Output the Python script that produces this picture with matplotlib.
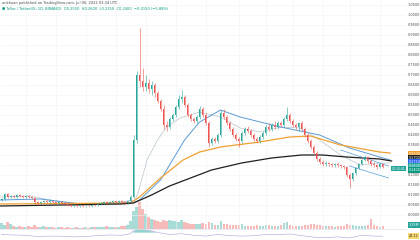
"""
TradingView-style daily candle chart with moving averages, volume and an
oscillator pane. Saves out.png (420x240).
"""
import matplotlib
matplotlib.use("Agg")
import matplotlib.pyplot as plt
import matplotlib.transforms as mtransforms
import numpy as np

# ---------------------------------------------------------------------------
# Data (daily candles, oldest first)
# ---------------------------------------------------------------------------

opens = [
    .075, .08, .105, .09, .095, .09, .10, .095, .09, .095, .09, .085, .065, .06, .065, .07,
    .065, .07, .065, .06, .065, .06, .055, .05, .045, .05, .045, .048, .044, .047, .045, .05,
    .048, .055, .06, .065, .06, .065, .07, .065, .07, .065, .06, .07, .09, .375, .70, .67,
    .64, .66, .63, .65, .61, .57, .53, .45, .44, .48, .50, .54, .58, .59, .55, .50,
    .48, .47, .49, .53, .50, .46, .36, .38, .37, .40, .51, .49, .46, .43, .40, .38,
    .37, .41, .43, .42, .40, .38, .37, .39, .41, .44, .43, .45, .44, .46, .45, .48,
    .50, .47, .45, .44, .46, .43, .40, .37, .34, .31, .28, .265, .255, .26, .255, .25,
    .255, .25, .245, .24, .20, .18, .21, .235, .255, .275, .29, .27, .255, .25, .24, .255,
]
highs = [
    .085, .11, .11, .10, .10, .105, .105, .10, .10, .10, .095, .09, .07, .07, .075, .075,
    .08, .075, .07, .07, .07, .065, .06, .055, .055, .055, .05, .052, .05, .05, .055, .055,
    .06, .065, .07, .07, .07, .075, .075, .075, .075, .07, .075, .10, .40, .72, .935, .735,
    .70, .68, .67, .66, .62, .58, .55, .47, .49, .51, .55, .60, .625, .60, .56, .51,
    .49, .50, .545, .54, .51, .47, .39, .39, .41, .525, .53, .50, .47, .44, .41, .39,
    .42, .44, .445, .43, .41, .39, .40, .42, .45, .46, .46, .47, .47, .47, .49, .54,
    .51, .48, .46, .465, .47, .44, .41, .38, .35, .32, .29, .275, .27, .265, .26, .26,
    .265, .255, .25, .245, .21, .215, .24, .26, .28, .30, .295, .28, .265, .255, .26, .26,
]
lows = [
    .07, .075, .085, .085, .085, .085, .09, .085, .085, .085, .08, .055, .05, .055, .06, .06,
    .06, .06, .055, .055, .055, .05, .045, .04, .04, .04, .04, .04, .04, .04, .042, .044,
    .045, .05, .055, .055, .055, .06, .06, .06, .06, .055, .055, .065, .085, .36, .64, .62,
    .62, .61, .60, .59, .56, .52, .43, .42, .43, .47, .49, .53, .56, .54, .49, .47,
    .46, .46, .48, .49, .45, .34, .35, .36, .36, .39, .48, .45, .42, .39, .37, .34,
    .36, .40, .41, .39, .37, .36, .36, .38, .40, .42, .42, .43, .43, .44, .44, .47,
    .46, .44, .43, .42, .42, .39, .36, .33, .30, .27, .255, .245, .245, .245, .24, .24,
    .24, .235, .23, .19, .135, .17, .20, .23, .25, .27, .26, .245, .24, .23, .235, .235,
]
closes = [
    .08, .105, .09, .095, .09, .10, .095, .09, .095, .09, .085, .065, .06, .065, .07, .065,
    .07, .065, .06, .065, .06, .055, .05, .045, .05, .045, .048, .044, .047, .045, .05, .048,
    .055, .06, .065, .06, .065, .07, .065, .07, .065, .06, .07, .09, .375, .70, .67, .64,
    .66, .63, .65, .61, .57, .53, .45, .44, .48, .50, .54, .58, .59, .55, .50, .48,
    .47, .49, .53, .50, .46, .36, .38, .37, .40, .51, .49, .46, .43, .40, .38, .37,
    .41, .43, .42, .40, .38, .37, .39, .41, .44, .43, .45, .44, .46, .45, .48, .50,
    .47, .45, .44, .46, .43, .40, .37, .34, .31, .28, .265, .255, .26, .255, .25, .255,
    .25, .245, .24, .20, .18, .21, .235, .255, .275, .29, .27, .255, .25, .24, .255, .24,
]
volume = [  # millions
    6, 4, 7, 5, 3, 2, 3, 2, 2, 3, 2, 4, 2, 2, 3, 2,
    2, 2, 1.5, 2, 2, 1.5, 2, 1.5, 1.5, 2, 1.5, 1.5, 2, 1.5, 2, 2,
    2, 2, 2, 3, 2, 2, 2, 2, 3, 3, 4, 8, 18, 22, 27, 20,
    15, 12, 10, 9, 8, 7, 9, 8, 9, 8, 8, 7, 9, 7, 6, 5,
    5, 5, 5, 6, 5, 7, 6, 4, 4, 8, 5, 5, 4, 4, 4, 4,
    5, 3, 3, 3, 3, 4, 3, 3, 4, 4, 3, 3, 3, 4, 6, 7,
    4, 3, 3, 3, 3, 4, 4, 5, 5, 4, 4, 3, 3, 3, 3, 2,
    3, 3, 3, 5, 4, 4, 3, 3, 3, 3, 4, 10, 4, 3, 2, 3,
]

# moving averages, read at a few candle positions
ma20_idx = [-0.5, 9.5, 16, 29.5, 39.5, 44.5, 45.5, 48.5, 52, 55, 59.5, 66, 73, 79.5,
            86, 93, 99.5, 106, 113, 119.5, 126, 129.5]
ma20_val = [.09, .095, .075, .05, .065, .075, .11, .275, .375, .44, .485, .515, .49, .435,
            .415, .44, .435, .375, .30, .25, .26, .26]
ma50_idx = [-0.5, 13, 26, 39.5, 44.5, 46, 53, 57, 61, 66, 73, 79.5, 93, 106, 116, 126, 129.5]
ma50_val = [.075, .08, .055, .06, .065, .075, .175, .275, .375, .465, .525, .49, .44, .40,
            .335, .29, .275]
ma100_idx = [-0.5, 43, 46, 53, 60.5, 66, 73, 86, 96, 103, 113, 126, 129.5]
ma100_val = [.055, .06, .09, .185, .275, .315, .34, .365, .39, .395, .35, .315, .31]
ma200_idx = [-0.5, 20, 40, 44, 50, 56, 63, 70, 80, 90, 100, 107, 115, 126, 130]
ma200_val = [.045, .05, .055, .06, .10, .145, .185, .225, .26, .285, .30, .30, .29, .28, .27]

# descending channel drawn at the end
channel_upper = ([113, 129], [.325, .245])
channel_lower = ([116, 129], [.245, .185])

# oscillator pane
osc_idx = [0, 4, 8, 12, 16, 20, 24, 28, 32, 36, 40, 43, 44, 45, 46, 47, 48, 50, 52, 56,
           60, 64, 68, 72, 76, 80, 84, 88, 92, 96, 100, 104, 108, 112, 116, 120, 124, 127]
osc_val = [55, 52, 50, 42, 45, 44, 40, 42, 48, 52, 50, 60, 80, 92, 95, 90, 85, 78, 68, 55,
           60, 50, 45, 55, 48, 45, 47, 55, 55, 58, 48, 38, 35, 40, 33, 50, 45, 44]

price_ticks = [0.00, 0.05, 0.10, 0.15, 0.20, 0.25, 0.30, 0.35, 0.40, 0.45, 0.50,
               0.55, 0.60, 0.65, 0.70, 0.75, 0.80, 0.85, 0.90, 0.95, 1.00, 1.05]
month_ticks = [8, 18, 28, 38, 48, 58, 68, 79, 88, 97, 107, 116, 126]

# right-hand value labels: (price, text, box colour)
axis_labels = [
    (.305, "0.3100", "#f0a030"),
    (.285, "0.2700", "#1f1f1f"),
    (.265, "0.2750", "#2962ff"),
    (.245, "0.2600", "#26a69a"),
    (.225, "0.2400", "#089981"),
]

# ---------------------------------------------------------------------------
# Style
# ---------------------------------------------------------------------------

C_UP = "#26a69a"
C_DOWN = "#ef5350"
C_GRID = "#f0f2f5"
C_TEXT = "#4a4a4a"

plt.rcParams.update({
    "font.family": "DejaVu Sans",
    "font.size": 2.6,
})

# ---------------------------------------------------------------------------
# Figure
# ---------------------------------------------------------------------------

fig = plt.figure(figsize=(4.2, 2.4), dpi=100)
fig.patch.set_facecolor("white")

ax = fig.add_axes([0, 11 / 240, 406 / 420, 229 / 240])
ax_vol = ax.twinx()
ax_osc = fig.add_axes([0, 0, 406 / 420, 11 / 240])

x = np.arange(len(closes))
o = np.array(opens)
c = np.array(closes)
up = c >= o
colors = np.where(up, C_UP, C_DOWN)

# volume behind the candles
ax_vol.bar(x, volume, width=0.7, color=colors, alpha=0.4, linewidth=0)
ax_vol.set_ylim(0, max(volume) * 8.5)
ax_vol.set_yticks([])
for s in ax_vol.spines.values():
    s.set_visible(False)
ax.set_zorder(ax_vol.get_zorder() + 1)
ax.patch.set_visible(False)

# candles
ax.vlines(x, lows, highs, colors=colors, linewidth=0.4, zorder=3)
body_h = np.maximum(np.abs(c - o), 0.002)
ax.bar(x, body_h, bottom=np.minimum(o, c), width=0.6, color=colors,
       linewidth=0, zorder=4)

# moving averages
ax.plot(ma20_idx, ma20_val, color="#b8c4cc", linewidth=0.5, zorder=2)
ax.plot(ma50_idx, ma50_val, color="#5b9bd5", linewidth=0.7, zorder=2)
ax.plot(ma100_idx, ma100_val, color="#f0a030", linewidth=0.9, zorder=2)
ax.plot(ma200_idx, ma200_val, color="#1f1f1f", linewidth=0.9, zorder=2)

# channel drawing
for xs, ys in (channel_upper, channel_lower):
    ax.plot(xs, ys, color="#5b9bd5", linewidth=0.5, zorder=2)

ax.set_xlim(-0.5, 134.8)
ax.set_ylim(-0.07, 1.075)
ax.set_xticks(month_ticks)
ax.set_xticklabels([])
ax.set_yticks(price_ticks)
ax.set_yticklabels([f"{t:.4f}" for t in price_ticks])
ax.yaxis.tick_right()
ax.tick_params(axis="y", length=0, pad=1.5, labelsize=2.5, colors=C_TEXT)
ax.tick_params(axis="x", length=0)
ax.grid(color=C_GRID, linewidth=0.4)
for s in ax.spines.values():
    s.set_visible(False)

# value labels on the price scale
trans = mtransforms.blended_transform_factory(ax.transAxes, ax.transData)
for price, text, col in axis_labels:
    ax.text(1.006, price, text, transform=trans, fontsize=2.4, color="white",
            va="center", ha="left", clip_on=False, zorder=6,
            bbox=dict(boxstyle="square,pad=0.2", fc=col, ec="none"))
ax.text(0.998, .232, "00:10:41", transform=trans, fontsize=2.2, color="white",
        va="center", ha="right", zorder=6,
        bbox=dict(boxstyle="square,pad=0.2", fc="#26a69a", ec="none"))
ax.text(1.006, -0.05, "3.25M", transform=trans, fontsize=2.4, color="white",
        va="center", ha="left", clip_on=False, zorder=6,
        bbox=dict(boxstyle="square,pad=0.2", fc="#26a69a", ec="none"))

# header legend
fig.text(0.005, 1 - 3 / 240, "ankhuan published on TradingView.com, Jul 06, 2022 03:34 UTC",
         fontsize=2.6, color=C_TEXT, va="center")
fig.text(0.005, 1 - 9 / 240, "\u25cf Tellor / TetherUS, 1D, BINANCE  "
         "O0.2550  H0.2600  L0.2350  C0.2400  \u22120.0150 (\u22125.88%)",
         fontsize=2.6, color="#089981", va="center")

# oscillator pane
ax_osc.plot(osc_idx, osc_val, color="#b39ddb", linewidth=0.4)
ax_osc.fill_between(osc_idx, 70, osc_val, where=np.array(osc_val) > 70,
                    interpolate=True, color=C_UP, alpha=0.5, linewidth=0)
ax_osc.set_xlim(-0.5, 134.8)
ax_osc.set_ylim(20, 90)
ax_osc.set_xticks([])
ax_osc.set_yticks([])
for name, s in ax_osc.spines.items():
    s.set_visible(name == "top")
ax_osc.spines["top"].set_color("#e0e3eb")
ax_osc.spines["top"].set_linewidth(0.5)
ax_osc.text(1.006, 45, "44.12", transform=mtransforms.blended_transform_factory(
    ax_osc.transAxes, ax_osc.transData), fontsize=2.4, color="#333333",
    va="center", ha="left", clip_on=False,
    bbox=dict(boxstyle="square,pad=0.2", fc="#f5d76e", ec="none"))

fig.savefig("out.png", dpi=100, facecolor="white")
